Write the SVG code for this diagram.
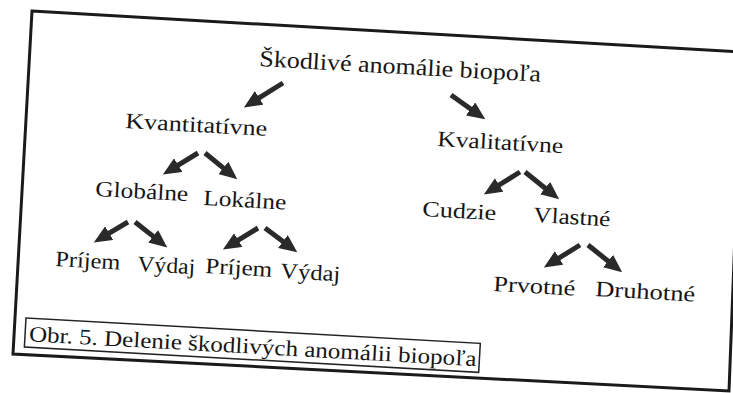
<svg xmlns="http://www.w3.org/2000/svg" width="733" height="393" viewBox="0 0 733 393">
  <style>
    .lbl { font-family: "Liberation Serif", "Times New Roman", serif; font-size: 22px; fill: #161616; }
    .title { font-size: 23px; }
    .arrow { stroke: #2a2a2a; stroke-width: 5; fill: none; marker-end: url(#head); }
    .frame { fill: none; stroke: #1a1a1a; stroke-width: 3; stroke-linejoin: miter; }
    .capbox { fill: none; stroke: #222; stroke-width: 1.5; }
  </style>
  <defs>
    <marker id="head" markerUnits="userSpaceOnUse" viewBox="0 0 18 16" refX="1" refY="8" markerWidth="18" markerHeight="16" orient="auto">
      <path d="M0,0 L18,8 L0,16 z" fill="#2a2a2a"/>
    </marker>
  </defs>

  <rect width="733" height="393" fill="#ffffff"/>

  <!-- outer frame (slightly skewed page) -->
  <path class="frame" d="M32,11 L742,52 L729,391 L13,354 Z"/>

  <!-- tree labels -->
  <g id="root">
    <text class="lbl title" x="259" y="66" textLength="282" lengthAdjust="spacingAndGlyphs" transform="rotate(3.2 259 66)">Škodlivé anomálie biopoľa</text>
  </g>
  <g id="kvantitativne">
    <text class="lbl" x="125" y="128" textLength="142" lengthAdjust="spacingAndGlyphs" transform="rotate(3.2 125 128)">Kvantitatívne</text>
  </g>
  <g id="kvalitativne">
    <text class="lbl" x="437" y="146" textLength="126" lengthAdjust="spacingAndGlyphs" transform="rotate(3.2 437 146)">Kvalitatívne</text>
  </g>
  <g id="globalne">
    <text class="lbl" x="95" y="196" textLength="93" lengthAdjust="spacingAndGlyphs" transform="rotate(3.2 95 196)">Globálne</text>
  </g>
  <g id="lokalne">
    <text class="lbl" x="203" y="205" textLength="83" lengthAdjust="spacingAndGlyphs" transform="rotate(3.2 203 205)">Lokálne</text>
  </g>
  <g id="prijem-globalne">
    <text class="lbl" x="55" y="266" textLength="65" lengthAdjust="spacingAndGlyphs" transform="rotate(3.2 55 266)">Príjem</text>
  </g>
  <g id="vydaj-globalne">
    <text class="lbl" x="137" y="271" textLength="58" lengthAdjust="spacingAndGlyphs" transform="rotate(3.2 137 271)">Výdaj</text>
  </g>
  <g id="prijem-lokalne">
    <text class="lbl" x="205" y="273" textLength="67" lengthAdjust="spacingAndGlyphs" transform="rotate(3.2 205 273)">Príjem</text>
  </g>
  <g id="vydaj-lokalne">
    <text class="lbl" x="280" y="278" textLength="60" lengthAdjust="spacingAndGlyphs" transform="rotate(3.2 280 278)">Výdaj</text>
  </g>
  <g id="cudzie">
    <text class="lbl" x="422" y="216" textLength="74" lengthAdjust="spacingAndGlyphs" transform="rotate(3.2 422 216)">Cudzie</text>
  </g>
  <g id="vlastne">
    <text class="lbl" x="533" y="222" textLength="77" lengthAdjust="spacingAndGlyphs" transform="rotate(3.2 533 222)">Vlastné</text>
  </g>
  <g id="prvotne">
    <text class="lbl" x="493" y="291" textLength="82" lengthAdjust="spacingAndGlyphs" transform="rotate(3.2 493 291)">Prvotné</text>
  </g>
  <g id="druhotne">
    <text class="lbl" x="595" y="296" textLength="100" lengthAdjust="spacingAndGlyphs" transform="rotate(3.2 595 296)">Druhotné</text>
  </g>

  <!-- connectors: shaft ends at the base of the arrowhead -->
  <g id="connectors">
    <line class="arrow" x1="283" y1="83" x2="258.3" y2="98.4"/>
    <line class="arrow" x1="451" y1="95" x2="471.4" y2="109.5"/>
    <line class="arrow" x1="198" y1="153" x2="177.4" y2="165.6"/>
    <line class="arrow" x1="205" y1="153" x2="224.1" y2="168.6"/>
    <line class="arrow" x1="128" y1="222" x2="108.4" y2="233.7"/>
    <line class="arrow" x1="135" y1="222" x2="153.9" y2="236.9"/>
    <line class="arrow" x1="258" y1="228" x2="237.4" y2="240.6"/>
    <line class="arrow" x1="265" y1="228" x2="283.7" y2="242.1"/>
    <line class="arrow" x1="520" y1="172" x2="498.3" y2="185.5"/>
    <line class="arrow" x1="525" y1="172" x2="545.9" y2="188.7"/>
    <line class="arrow" x1="580" y1="245" x2="558.3" y2="258.5"/>
    <line class="arrow" x1="588" y1="245" x2="608.9" y2="261.7"/>
  </g>

  <!-- caption -->
  <g id="caption" transform="rotate(3.2 26 318)">
    <rect class="capbox" x="26" y="318" width="455" height="29"/>
    <text class="lbl" x="30" y="341" textLength="448" lengthAdjust="spacingAndGlyphs">Obr. 5. Delenie škodlivých anomálii biopoľa</text>
  </g>
</svg>
